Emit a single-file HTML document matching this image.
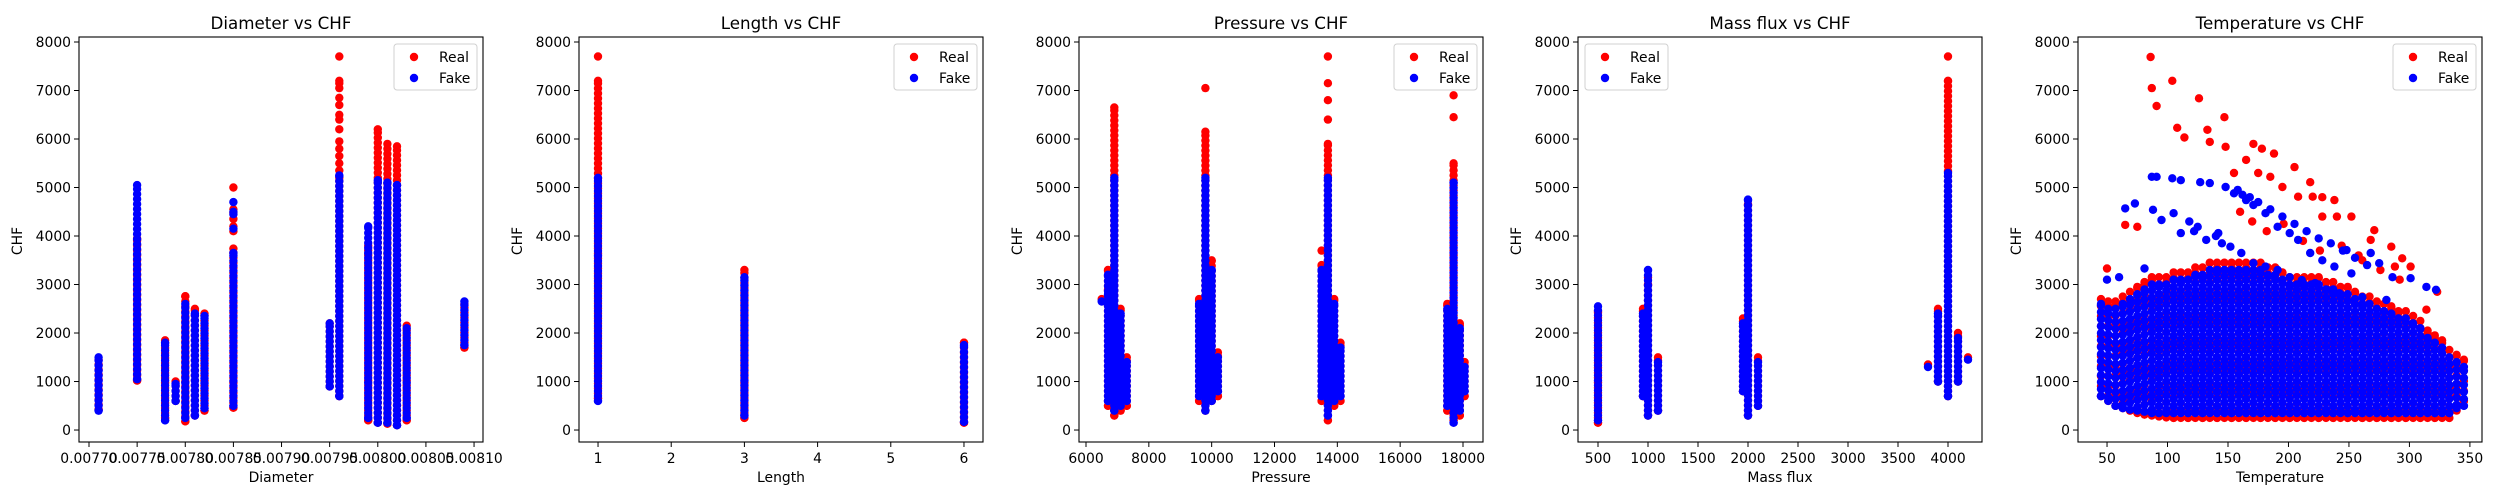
<!DOCTYPE html>
<html><head><meta charset="utf-8">
<style>
html,body{margin:0;padding:0;background:#fff;}
svg{display:block;font-family:"DejaVu Sans","Liberation Sans",sans-serif;}
</style></head>
<body>
<svg id="chart" width="2500" height="500" viewBox="0 0 2500 500" xmlns="http://www.w3.org/2000/svg"></svg>
<script>
// ---------- Panel 1: Diameter ----------
const p1RealStripeX=[0.00771,0.00775,0.007779,0.00779,0.00780,0.00781,0.00782,0.00785,0.00795,0.00796,0.00799,0.00800,0.00801,0.00802,0.00803,0.00809];
const p1RealStripeLo=[420,1020,250,600,180,300,400,460,900,700,200,150,130,100,200,1700];
const p1RealStripeHi=[1450,3950,1850,1000,2760,2500,2400,3740,2200,5200,3800,6200,5900,5850,2150,2600];
const p1RealPtX=[0.00785,0.00785,0.00785,0.00785,0.00785,0.00785,0.00796,0.00796,0.00796,0.00796,0.00796,0.00796,0.00796,0.00796,0.00796,0.00796,0.00796,0.00796,0.00796,0.00796];
const p1RealPtY=[4100,4200,4350,4480,4550,5000,5350,5500,5650,5800,5950,6200,6400,6500,6700,6850,7050,7150,7200,7700];
const p1FakeStripeX=[0.00771,0.00775,0.007779,0.00779,0.00780,0.00781,0.00782,0.00785,0.00795,0.00796,0.00799,0.00800,0.00801,0.00802,0.00803,0.00809];
const p1FakeStripeLo=[400,1050,200,600,250,300,450,500,900,700,250,150,150,100,250,1750];
const p1FakeStripeHi=[1500,5050,1800,950,2600,2400,2350,3650,2200,5250,4200,5150,5100,5050,2100,2650];
const p1FakePtX=[0.00785,0.00785,0.00785,0.00785];
const p1FakePtY=[4150,4450,4500,4700];
const p1Ticks=[0.00770,0.00775,0.00780,0.00785,0.00790,0.00795,0.00800,0.00805,0.00810];
const p1TickLabels=["0.00770","0.00775","0.00780","0.00785","0.00790","0.00795","0.00800","0.00805","0.00810"];

// ---------- Panel 2: Length ----------
const p2RealStripeX=[1,3,6];
const p2RealStripeLo=[650,250,150];
const p2RealStripeHi=[7200,3300,1800];
const p2RealPtX=[1];
const p2RealPtY=[7700];
const p2FakeStripeX=[1,3,6];
const p2FakeStripeLo=[600,300,170];
const p2FakeStripeHi=[5200,3150,1750];
const p2FakePtX=[];
const p2FakePtY=[];
const p2Ticks=[1,2,3,4,5,6];
const p2TickLabels=["1","2","3","4","5","6"];

// ---------- Panel 3: Pressure ----------
const p3RealStripeX=[6700,6900,7100,7300,9600,9800,10000,10200,13500,13700,13900,14100,17500,17700,17900,18050];
const p3RealStripeLo=[500,300,400,500,600,400,600,700,600,200,500,600,400,200,300,700];
const p3RealStripeHi=[3300,6650,2500,1500,2700,6150,3500,1600,3400,5900,2700,1800,2600,5500,2200,1400];
const p3RealPtX=[6500,6700,9800,13500,13700,13700,13700,13700,17700,17700];
const p3RealPtY=[2700,2900,7050,3700,6400,6800,7150,7700,6450,6900];
const p3FakeStripeX=[6700,6900,7100,7300,9600,9800,10000,10200,13500,13700,13900,14100,17500,17700,17900,18050];
const p3FakeStripeLo=[600,400,500,600,700,400,600,800,700,300,600,700,500,150,400,800];
const p3FakeStripeHi=[3200,5200,2400,1400,2600,5200,3300,1500,3300,5200,2600,1700,2500,5100,2100,1300];
const p3FakePtX=[6500,6700];
const p3FakePtY=[2650,2800];
const p3Ticks=[6000,8000,10000,12000,14000,16000,18000];
const p3TickLabels=["6000","8000","10000","12000","14000","16000","18000"];

// ---------- Panel 4: Mass flux ----------
const p4RealStripeX=[500,950,1000,1100,1950,2000,2100,3900,4000,4100];
const p4RealStripeLo=[150,700,300,400,800,300,500,1000,700,1000];
const p4RealStripeHi=[2450,2500,3000,1500,2300,4650,1500,2500,7200,2000];
const p4RealPtX=[1000,4000,3800,4200];
const p4RealPtY=[3150,7700,1350,1500];
const p4FakeStripeX=[500,950,1000,1100,1950,2000,2100,3900,4000,4100];
const p4FakeStripeLo=[200,700,300,400,800,300,500,1000,700,1000];
const p4FakeStripeHi=[2550,2400,3300,1400,2200,4750,1400,2400,5300,1900];
const p4FakePtX=[3800,4200];
const p4FakePtY=[1300,1450];
const p4Ticks=[500,1000,1500,2000,2500,3000,3500,4000];
const p4TickLabels=["500","1000","1500","2000","2500","3000","3500","4000"];

// ---------- Panel 5: Temperature ----------
const p5RealStripeX=[45,51,57,63,69,75,81,87,93,99,105,111,117,123,129,135,141,147,153,159,165,171,177,183,189,195,201,207,213,219,225,231,237,243,249,255,261,267,273,279,285,291,297,303,309,315,321,327,333,339,345];
const p5RealStripeLo=[700,600,500,450,400,350,320,300,280,260,250,250,250,250,250,250,250,250,250,250,250,250,250,250,250,250,250,250,250,250,250,250,250,250,250,250,250,250,250,250,250,250,250,250,250,250,250,250,250,400,600];
const p5RealStripeHi=[2700,2650,2650,2750,2850,2950,3050,3150,3150,3150,3250,3250,3250,3350,3350,3450,3450,3450,3450,3450,3450,3450,3450,3350,3350,3250,3150,3150,3150,3150,3150,3050,3050,2950,2950,2850,2750,2750,2650,2600,2550,2450,2450,2350,2250,2050,1950,1850,1650,1550,1450];
const p5RealPtX=[50,65,75,86,87,91,104,108,114,126,133,135,147,148,155,165,171,175,178,185,188,195,205,208,218,220,228,228,238,240,252,261,268,271,285,288,294,301,314,323,160,170,182,196,212,226,244,258,276,292];
const p5RealPtY=[3330,4230,4190,7690,7050,6680,7200,6230,6030,6840,6190,5940,6450,5840,5300,5570,5900,5300,5800,5220,5700,5010,5420,4810,5110,4810,4800,4400,4740,4400,4400,3500,3920,4120,3780,3370,3540,3370,2480,2850,4500,4300,4100,4250,3900,3700,3800,3600,3300,3100];
const p5FakeStripeX=[45,51,57,63,69,75,81,87,93,99,105,111,117,123,129,135,141,147,153,159,165,171,177,183,189,195,201,207,213,219,225,231,237,243,249,255,261,267,273,279,285,291,297,303,309,315,321,327,333,339,345];
const p5FakeStripeLo=[700,600,500,450,420,400,380,350,350,350,350,350,350,350,350,350,350,350,350,350,350,350,350,350,350,350,350,350,350,350,350,350,350,350,350,350,350,350,350,350,350,350,350,350,350,350,350,350,350,450,500];
const p5FakeStripeHi=[2600,2500,2500,2600,2700,2800,2900,3000,3000,3000,3100,3100,3100,3200,3200,3300,3300,3300,3300,3300,3300,3300,3300,3200,3200,3100,3000,3000,3000,3000,3000,2900,2900,2800,2800,2700,2600,2600,2500,2450,2400,2300,2300,2200,2100,1900,1800,1700,1500,1400,1300];
const p5FakePtX=[87,91,104,111,127,135,148,155,165,171,181,191,201,208,218,228,238,248,252,268,275,286,301,314,322,65,73,88,95,105,111,125,132,142,152,161,171,181,191,201,211,222,232,242,261,281,50,60,81,158,162,168,175,185,195,205,215,225,235,245,255,265,140,145,118,122];
const p5FakePtY=[5220,5220,5190,5150,5110,5090,5010,4880,4740,4640,4470,4190,4060,3920,3650,3500,3370,3710,3230,3650,3440,3150,3130,2950,2890,4570,4670,4540,4330,4470,4060,4190,3920,4060,3780,3650,3440,3370,3300,3150,3090,3030,2890,2820,2740,2680,3100,3150,3330,4950,4850,4800,4700,4550,4400,4250,4100,3950,3850,3700,3550,3400,4000,3850,4300,4100];
const p5Ticks=[50,100,150,200,250,300,350];
const p5TickLabels=["50","100","150","200","250","300","350"];

// ---------- shared y axis ----------
const yTicks=[0,1000,2000,3000,4000,5000,6000,7000,8000];
const yTickLabels=["0","1000","2000","3000","4000","5000","6000","7000","8000"];

const NS="http://www.w3.org/2000/svg";
const svg=document.getElementById('chart');
const AX_TOP=37, AX_BOT=442, AX_W=404;
const Y0=-247, Y1=8103;
function yScale(v){return AX_BOT-(v-Y0)/(Y1-Y0)*(AX_BOT-AX_TOP);}
function mk(tag,attrs,parent){const e=document.createElementNS(NS,tag);for(const k in attrs)e.setAttribute(k,attrs[k]);(parent||svg).appendChild(e);return e;}

const panels=[
 {left:79,d0:0.0076896,d1:0.0081093,title:"Diameter vs CHF",xl:"Diameter",legend:"right",rstep:5,fstep:5,
  rsx:p1RealStripeX,rlo:p1RealStripeLo,rhi:p1RealStripeHi,rpx:p1RealPtX,rpy:p1RealPtY,
  fsx:p1FakeStripeX,flo:p1FakeStripeLo,fhi:p1FakeStripeHi,fpx:p1FakePtX,fpy:p1FakePtY,ticks:p1Ticks,labels:p1TickLabels},
 {left:579,d0:0.74,d1:6.26,title:"Length vs CHF",xl:"Length",legend:"right",rstep:5,fstep:5,
  rsx:p2RealStripeX,rlo:p2RealStripeLo,rhi:p2RealStripeHi,rpx:p2RealPtX,rpy:p2RealPtY,
  fsx:p2FakeStripeX,flo:p2FakeStripeLo,fhi:p2FakeStripeHi,fpx:p2FakePtX,fpy:p2FakePtY,ticks:p2Ticks,labels:p2TickLabels},
 {left:1079,d0:5777,d1:18637,title:"Pressure vs CHF",xl:"Pressure",legend:"right",rstep:5,fstep:5,
  rsx:p3RealStripeX,rlo:p3RealStripeLo,rhi:p3RealStripeHi,rpx:p3RealPtX,rpy:p3RealPtY,
  fsx:p3FakeStripeX,flo:p3FakeStripeLo,fhi:p3FakeStripeHi,fpx:p3FakePtX,fpy:p3FakePtY,ticks:p3Ticks,labels:p3TickLabels},
 {left:1578,d0:300,d1:4340,title:"Mass flux vs CHF",xl:"Mass flux",legend:"left",rstep:5,fstep:5,
  rsx:p4RealStripeX,rlo:p4RealStripeLo,rhi:p4RealStripeHi,rpx:p4RealPtX,rpy:p4RealPtY,
  fsx:p4FakeStripeX,flo:p4FakeStripeLo,fhi:p4FakeStripeHi,fpx:p4FakePtX,fpy:p4FakePtY,ticks:p4Ticks,labels:p4TickLabels},
 {left:2078,d0:26,d1:360,title:"Temperature vs CHF",xl:"Temperature",legend:"right",rstep:10,fstep:7,
  rsx:p5RealStripeX,rlo:p5RealStripeLo,rhi:p5RealStripeHi,rpx:p5RealPtX,rpy:p5RealPtY,
  fsx:p5FakeStripeX,flo:p5FakeStripeLo,fhi:p5FakeStripeHi,fpx:p5FakePtX,fpy:p5FakePtY,ticks:p5Ticks,labels:p5TickLabels}
];

const R=4.2;
panels.forEach((p,pi)=>{
  const g=mk('g',{});
  
  
  const xScale=v=>p.left+(v-p.d0)/(p.d1-p.d0)*AX_W;
  const clipId='clip'+pi;
  const cp=mk('clipPath',{id:clipId},g);
  mk('rect',{x:p.left,y:AX_TOP,width:AX_W,height:AX_BOT-AX_TOP},cp);
  function series(sx,lo,hi,px,py,color,name,step){
    const sg=mk('g',{'clip-path':'url(#'+clipId+')'},g);
    
    
    for(let i=0;i<sx.length;i++){
      const cx=xScale(sx[i]);
      const yTop=yScale(hi[i]), yB=yScale(lo[i]);
      const off=(step>5 && i%2)?step/2:0;
      for(let y=yB-off;y>=yTop-0.01;y-=step){
        const c=mk('circle',{cx:cx.toFixed(1),cy:y.toFixed(1),r:R,fill:color},sg);
        
        
      }
      const c=mk('circle',{cx:cx.toFixed(1),cy:yTop.toFixed(1),r:R,fill:color},sg);
      
      
      const c2=mk('circle',{cx:cx.toFixed(1),cy:yB.toFixed(1),r:R,fill:color},sg);
      
      
    }
    for(let i=0;i<px.length;i++){
      const c=mk('circle',{cx:xScale(px[i]).toFixed(1),cy:yScale(py[i]).toFixed(1),r:R,fill:color},sg);
      
      
    }
  }
  series(p.rsx,p.rlo,p.rhi,p.rpx,p.rpy,'#ff0000','real',p.rstep);
  series(p.fsx,p.flo,p.fhi,p.fpx,p.fpy,'#0000ff','fake',p.fstep);
  const fr=mk('rect',{x:p.left,y:AX_TOP,width:AX_W,height:AX_BOT-AX_TOP,fill:'none',stroke:'#000','stroke-width':1.1},g);
  
  
  p.ticks.forEach((t,i)=>{
    const x=xScale(t);
    mk('line',{x1:x,x2:x,y1:AX_BOT,y2:AX_BOT+5,stroke:'#000','stroke-width':1},g);
    const tx=mk('text',{x:x,y:463,'font-size':13.9,'text-anchor':'middle',fill:'#000'},g);
    tx.textContent=p.labels[i];
    
    
  });
  yTicks.forEach((t,i)=>{
    const y=yScale(t);
    mk('line',{x1:p.left-5,x2:p.left,y1:y,y2:y,stroke:'#000','stroke-width':1},g);
    const tx=mk('text',{x:p.left-8,y:y+5,'font-size':13.9,'text-anchor':'end',fill:'#000'},g);
    tx.textContent=yTickLabels[i];
    
    
  });
  const ttl=mk('text',{x:p.left+AX_W/2,y:29,'font-size':16.7,'text-anchor':'middle',fill:'#000'},g);
  ttl.textContent=p.title;
  
  
  const xl=mk('text',{x:p.left+AX_W/2,y:482,'font-size':13.9,'text-anchor':'middle',fill:'#000'},g);
  xl.textContent=p.xl;
  
  
  const yl=mk('text',{x:0,y:0,'font-size':13.9,'text-anchor':'middle',fill:'#000',transform:'translate('+(p.left-57)+',241) rotate(-90)'},g);
  yl.textContent='CHF';
  
  
  const lx=p.legend==='right'?p.left+AX_W-89:p.left+7;
  const lg=mk('g',{},g);
  
  
  mk('rect',{x:lx,y:44,width:83,height:46,rx:3,fill:'#fff','fill-opacity':0.8,stroke:'#d0d0d0','stroke-width':1},lg);
  [['Real','#ff0000',57],['Fake','#0000ff',78]].forEach(e=>{
    const en=mk('g',{},lg);
    
    
    mk('circle',{cx:lx+20,cy:e[2],r:R,fill:e[1]},en);
    const t=mk('text',{x:lx+45,y:e[2]+5,'font-size':13.9,fill:'#000'},en);
    t.textContent=e[0];
  });
});
</script>
</body></html>
